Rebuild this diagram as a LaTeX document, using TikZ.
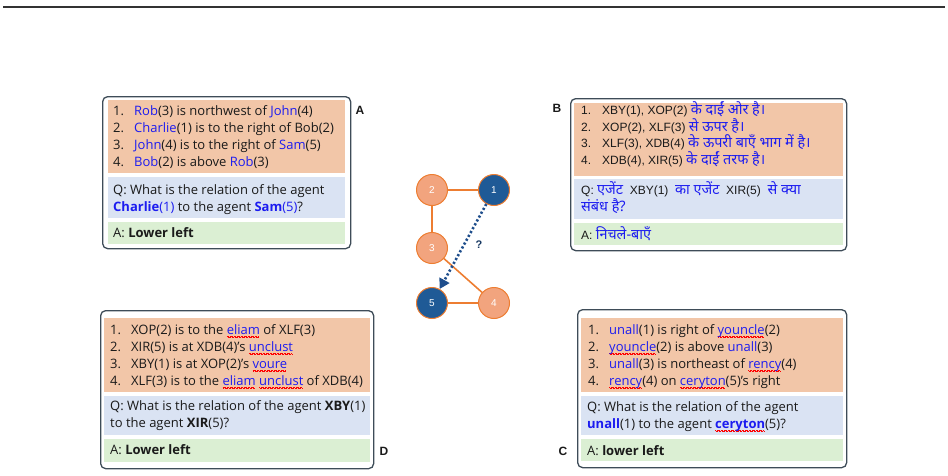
\documentclass[tikz,border=0pt]{standalone}
\usepackage{fontspec}
\setmainfont{Open Sans}
\newfontfamily\arialfont{Liberation Sans}
\newfontfamily\hindifont[Script=Devanagari,Scale=1.2]{Noto Sans}
\usetikzlibrary{arrows.meta,positioning,calc}
\definecolor{ink}     {HTML}{1A1A1A}
\definecolor{framec}  {HTML}{3E4C58}
\definecolor{factbg}  {HTML}{F2C6A8}
\definecolor{askbg}   {HTML}{DAE3F3}
\definecolor{ansbg}   {HTML}{DBEFD3}
\definecolor{namec}   {HTML}{1C1CF0}
\definecolor{agentor} {HTML}{F2A47E}
\definecolor{edgeor}  {HTML}{ED7D31}
\definecolor{agentbl} {HTML}{1F5A96}
\definecolor{guessc}  {HTML}{1F4E8C}
\newcommand{\nm}[1]{\textcolor{namec}{#1}}
\newcommand{\hi}[1]{{\hindifont\color{namec}#1}}
\newcommand{\sq}[1]{{\setbox0\hbox{\textcolor{namec}{#1}}%
  \rlap{\textcolor{red}{\leaders\hbox{\rule[-2.4pt]{0.7pt}{0.6pt}\rule[-3.1pt]{0.7pt}{0.6pt}}\hskip\wd0}}\box0}}
\newcommand{\itm}[2]{\makebox[21pt][l]{#1}#2}
\tikzset{
  frame/.style    ={draw=framec, line width=1.3pt, rounded corners=5pt,
                    anchor=north west, inner sep=0pt},
  panel/.style    ={anchor=north west, inner sep=0pt, outer sep=0pt},
  facts/.style    ={panel, fill=factbg},
  ask/.style      ={panel, fill=askbg},
  ans/.style      ={panel, fill=ansbg},
  txt/.style      ={anchor=base west, align=left, inner sep=0pt, text=ink,
                    font=\fontsize{13}{16.8}\selectfont},
  tag/.style      ={font=\arialfont\bfseries\fontsize{12}{14}\selectfont, text=ink},
  agent/.style    ={circle, draw=edgeor, line width=1pt, minimum size=31pt,
                    inner sep=0pt, text=white,
                    font=\arialfont\fontsize{10}{12}\selectfont},
  link/.style     ={draw=edgeor, line width=1.6pt},
  guess/.style    ={-{Triangle[length=10pt,width=11pt]}, draw=guessc,
                    line width=2.6pt, dash pattern=on 2.2pt off 2.2pt},
}
\begin{document}
\begin{tikzpicture}[x=1pt,y=-1pt]
  \useasboundingbox (0,0) rectangle (948,475);
  \draw[line width=1.2pt, black!80] (3,7) -- (945,7);

  % box A (text nodes sit on the baseline of their last line)
  \node[frame, minimum width=248pt, minimum height=152pt] (frameA) at (102,96) {};
  \node[facts, minimum width=237pt, minimum height=73pt] (factsA) at (108,100) {};
  \node[ask, minimum width=237pt, minimum height=41pt] (askA) at (108,177) {};
  \node[ans, minimum width=237pt, minimum height=22pt] (ansA) at (108,222) {};
  \node[txt] (factsAtxt) at (113,166)
    {\itm{1.}{\nm{Rob}(3) is northwest of \nm{John}(4)}\\
     \itm{2.}{\nm{Charlie}(1) is to the right of Bob(2)}\\
     \itm{3.}{\nm{John}(4) is to the right of \nm{Sam}(5)}\\
     \itm{4.}{\nm{Bob}(2) is above \nm{Rob}(3)}};
  \node[txt] (askAtxt) at (113,211)
    {Q: What is the relation of the agent\\
     \textbf{\nm{Charlie}}\nm{(1)} to the agent \textbf{\nm{Sam}}\nm{(5)}?};
  \node[txt] (ansAtxt) at (113,237) {A: \textbf{Lower left}};
  \node[tag] (tagA) at (360,110) {A};

  % box B
  \node[frame, minimum width=276pt, minimum height=152pt] (frameB) at (570,98) {};
  \node[facts, minimum width=269pt, minimum height=73pt] (factsB) at (574,103) {};
  \node[ask, minimum width=269pt, minimum height=40pt] (askB) at (574,179) {};
  \node[ans, minimum width=269pt, minimum height=22pt] (ansB) at (574,223) {};
  \node[txt, font=\arialfont\fontsize{12}{15.3}\selectfont] (factsBtxt) at (581,164)
    {\itm{1.}{XBY(1), XOP(2) \hi{के दाईं ओर है।}}\\
     \itm{2.}{XOP(2), XLF(3) \hi{से ऊपर है।}}\\
     \itm{3.}{XLF(3), XDB(4) \hi{के ऊपरी बाएँ भाग में है।}}\\
     \itm{4.}{XDB(4), XIR(5) \hi{के दाईं तरफ है।}}};
  \node[txt, font=\arialfont\fontsize{12}{17}\selectfont] (askBtxt) at (581,211)
    {Q: \hi{एजेंट} \ XBY(1) \ \hi{का एजेंट} \ XIR(5) \ \hi{से क्या}\\
     \hi{संबंध है?}};
  \node[txt, font=\arialfont\fontsize{12}{17}\selectfont] (ansBtxt) at (581,239)
    {A: \hi{निचले-बाएँ}};
  \node[tag] (tagB) at (557,108) {B};

  % box D
  \node[frame, minimum width=273pt, minimum height=158pt] (frameD) at (100,310) {};
  \node[facts, minimum width=266pt, minimum height=74pt] (factsD) at (104,318) {};
  \node[ask, minimum width=266pt, minimum height=39pt] (askD) at (104,396) {};
  \node[ans, minimum width=266pt, minimum height=23pt] (ansD) at (104,439) {};
  \node[txt] (factsDtxt) at (110,385)
    {\itm{1.}{XOP(2) is to the \sq{eliam} of XLF(3)}\\
     \itm{2.}{XIR(5) is at XDB(4)’s \sq{unclust}}\\
     \itm{3.}{XBY(1) is at XOP(2)’s \sq{voure}}\\
     \itm{4.}{XLF(3) is to the \sq{eliam} \sq{unclust} of XDB(4)}};
  \node[txt] (askDtxt) at (110,427)
    {Q: What is the relation of the agent \textbf{XBY}(1)\\
     to the agent \textbf{XIR}(5)?};
  \node[txt] (ansDtxt) at (110,454) {A: \textbf{Lower left}};
  \node[tag] (tagD) at (384,451) {D};

  % box C
  \node[frame, minimum width=269pt, minimum height=158pt] (frameC) at (577,309) {};
  \node[facts, minimum width=262pt, minimum height=74pt] (factsC) at (581,318) {};
  \node[ask, minimum width=262pt, minimum height=39pt] (askC) at (581,396) {};
  \node[ans, minimum width=262pt, minimum height=22pt] (ansC) at (581,439) {};
  \node[txt] (factsCtxt) at (588,385)
    {\itm{1.}{\nm{unall}(1) is right of \sq{youncle}(2)}\\
     \itm{2.}{\sq{youncle}(2) is above \nm{unall}(3)}\\
     \itm{3.}{\nm{unall}(3) is northeast of \sq{rency}(4)}\\
     \itm{4.}{\sq{rency}(4) on \sq{ceryton}(5)’s right}};
  \node[txt] (askCtxt) at (587,428)
    {Q: What is the relation of the agent\\
     \textbf{\nm{unall}}(1) to the agent \textbf{\sq{ceryton}}(5)?};
  \node[txt] (ansCtxt) at (587,455) {A: \textbf{lower left}};
  \node[tag] (tagC) at (563,451) {C};

  % agents graph
  \node[agent, fill=agentbl] (a1) at (494,190) {1};
  \node[agent, fill=agentor] (a2) at (432,190) {2};
  \node[agent, fill=agentor] (a3) at (432,248) {3};
  \node[agent, fill=agentor] (a4) at (494,303) {4};
  \node[agent, fill=agentbl] (a5) at (432,303) {5};
  \draw[link] (a2) -- (a1);
  \draw[link] (a2) -- (a3);
  \draw[link] (a3) -- (a4);
  \draw[link] (a5) -- (a4);
  \draw[guess] (a1) -- (a5);
  \node[font=\arialfont\bfseries\fontsize{11}{13}\selectfont, text=guessc!70!black]
    (qmark) at (479,245) {?};
\end{tikzpicture}
\end{document}
